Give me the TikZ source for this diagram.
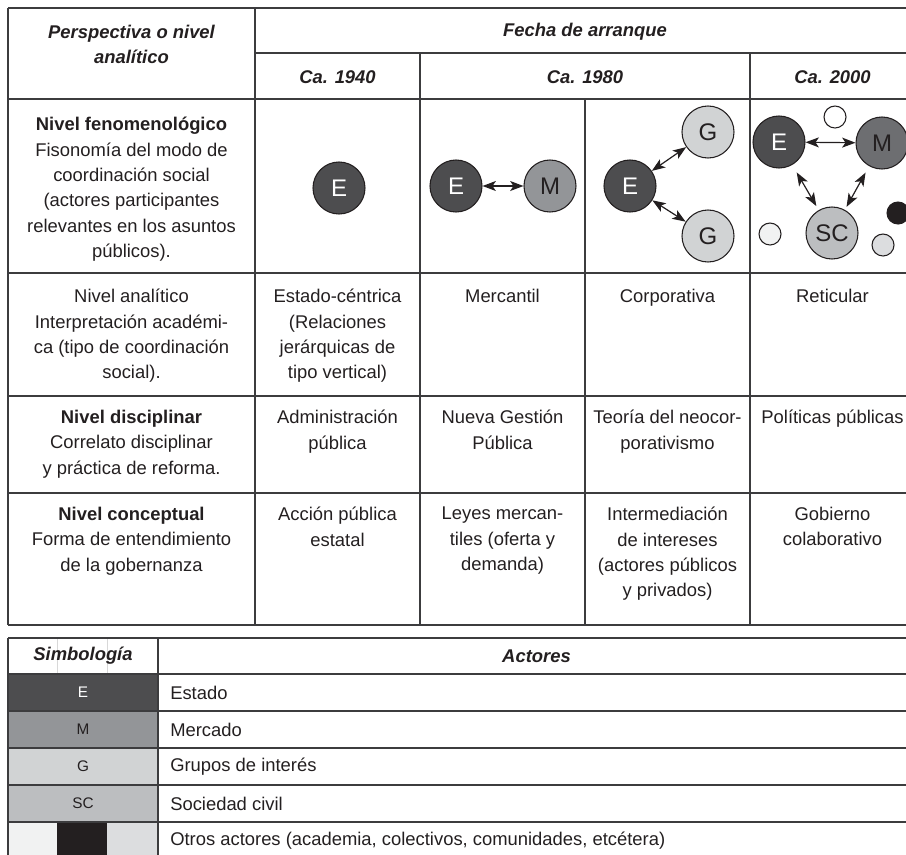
\documentclass[tikz,border=0pt]{standalone}
\usepackage{fontspec}
\setmainfont{Liberation Sans}
\usetikzlibrary{arrows.meta, positioning}
\definecolor{gridcolor}{RGB}{60, 60, 62}
\definecolor{inkcolor}{RGB}{35, 31, 32}
\definecolor{estadocolor}{RGB}{77, 77, 79}
\definecolor{mercadocolor}{RGB}{147, 149, 152}
\definecolor{mercadodark}{RGB}{109, 110, 113}
\definecolor{grupocolor}{RGB}{209, 211, 212}
\definecolor{sociedadcolor}{RGB}{188, 190, 192}
\definecolor{otrolight}{RGB}{241, 242, 242}
\definecolor{otrogray}{RGB}{220, 221, 223}
\definecolor{otroblack}{RGB}{35, 31, 32}

\begin{document}
\begin{tikzpicture}[x=0.75pt, y=-0.75pt,
    grid/.style={line width=1.1pt, gridcolor},
    cell/.style={font=\fontsize{13.8}{19}\selectfont, text=inkcolor, align=center, anchor=north, inner sep=0pt},
    head/.style={cell, font=\fontsize{13.8}{19}\selectfont\bfseries\itshape},
    entry/.style={font=\fontsize{13.8}{19}\selectfont, text=inkcolor, anchor=west, inner sep=0pt},
    symb/.style={font=\fontsize{11.5}{13}\selectfont, text=inkcolor, inner sep=0pt},
    actor/.style={circle, draw=inkcolor, line width=0.8pt, minimum size=39pt, inner sep=0pt,
                  font=\fontsize{18}{20}\selectfont, text=inkcolor},
    other/.style={circle, draw=inkcolor, line width=0.8pt, minimum size=16.5pt, inner sep=0pt},
    link/.style={{Stealth[length=10pt, width=7.5pt, inset=2.5pt]}-{Stealth[length=10pt, width=7.5pt, inset=2.5pt]},
                 line width=0.9pt, inkcolor}
]
\clip (0,0) rectangle (906,854);

% Table grid
\draw[grid] (8,8) -- (915,8);
\draw[grid] (255,53) -- (915,53);
\foreach \y in {99, 273, 396, 493, 625}
    \draw[grid] (8,\y) -- (915,\y);
\draw[grid] (8,8) -- (8,625);
\draw[grid] (255,8) -- (255,625);
\draw[grid] (420,53) -- (420,625);
\draw[grid] (585,99) -- (585,625);
\draw[grid] (750,53) -- (750,625);
\draw[grid] (915,8) -- (915,625);

% Header
\node[head] (hpersp) at (131.5,25) {Perspectiva o nivel\\analítico};
\node[head] (hfecha) at (585,23) {Fecha de arranque};
\node[head] (h40) at (337.5,70) {Ca. 1940};
\node[head] (h80) at (585,70) {Ca. 1980};
\node[head] (h00) at (832.5,70) {Ca. 2000};

% Nivel fenomenologico
\node[cell] (fen) at (131.5,117) {\textbf{Nivel fenomenológico}\\Fisonomía del modo de\\coordinación social\\(actores participantes\\relevantes en los asuntos\\públicos).};

\node[actor, fill=estadocolor, text=white] (e40) at (339,188) {E};

\node[actor, fill=estadocolor, text=white] (e80) at (456,186) {E};
\node[actor, fill=mercadocolor] (m80) at (550,186) {M};
\draw[link] (e80) -- (m80);

\node[actor, fill=estadocolor, text=white] (ecorp) at (630,186) {E};
\node[actor, fill=grupocolor] (gtop) at (708,132) {G};
\node[actor, fill=grupocolor] (gbot) at (708,236) {G};
\draw[link] (ecorp) -- (gtop);
\draw[link] (ecorp) -- (gbot);

\node[actor, fill=estadocolor, text=white] (e00) at (779,142) {E};
\node[actor, fill=mercadodark] (m00) at (882,143) {M};
\node[actor, fill=sociedadcolor] (sc00) at (832,233) {SC};
\node[other, fill=white] (o1) at (835,117) {};
\node[other, fill=otrolight] (o2) at (770,234) {};
\node[other, fill=otroblack] (o3) at (898,213) {};
\node[other, fill=otrogray] (o4) at (883,245) {};
\draw[link] (e00) -- (m00);
\draw[link, shorten <=6.5pt, shorten >=3.5pt] (e00) -- (sc00);
\draw[link, shorten <=5.5pt, shorten >=2.5pt] (m00) -- (sc00);

% Nivel analitico
\node[cell] (ana) at (131.5,289) {Nivel analítico\\Interpretación académi-\\ca (tipo de coordinación\\social).};
\node[cell] (ana40) at (337.5,289) {Estado-céntrica\\(Relaciones\\jerárquicas de\\tipo vertical)};
\node[cell] (ana80a) at (502.5,289) {Mercantil};
\node[cell] (ana80b) at (667.5,289) {Corporativa};
\node[cell] (ana00) at (832.5,289) {Reticular};

% Nivel disciplinar
\node[cell] (dis) at (131.5,410) {\textbf{Nivel disciplinar}\\Correlato disciplinar\\y práctica de reforma.};
\node[cell] (dis40) at (337.5,410) {Administración\\pública};
\node[cell] (dis80a) at (502.5,410) {Nueva Gestión\\Pública};
\node[cell] (dis80b) at (667.5,410) {Teoría del neocor-\\porativismo};
\node[cell] (dis00) at (832.5,410) {Políticas públicas};

% Nivel conceptual
\node[cell] (con) at (131.5,507) {\textbf{Nivel conceptual}\\Forma de entendimiento\\de la gobernanza};
\node[cell] (con40) at (337.5,507) {Acción pública\\estatal};
\node[cell] (con80a) at (502.5,507) {Leyes mercan-\\tiles (oferta y\\demanda)};
\node[cell] (con80b) at (667.5,507) {Intermediación\\de intereses\\(actores públicos\\y privados)};
\node[cell] (con00) at (832.5,507) {Gobierno\\colaborativo};

% Simbologia
\fill[estadocolor] (8,674) rectangle (158,711);
\fill[mercadocolor] (8,711) rectangle (158,748);
\fill[grupocolor] (8,748) rectangle (158,785);
\fill[sociedadcolor] (8,785) rectangle (158,822);
\fill[otrolight] (8,822) rectangle (57,860);
\fill[otroblack] (57,822) rectangle (107,860);
\fill[otrogray] (107,822) rectangle (158,860);
\draw[gridcolor!20, line width=0.5pt] (57,638) -- (57,674) (107,638) -- (107,674);
\draw[grid, line width=1.3pt] (8,638) -- (915,638);
\foreach \y in {674, 711, 748, 785, 822}
    \draw[grid] (8,\y) -- (915,\y);
\draw[grid] (8,638) -- (8,860);
\draw[grid] (158,638) -- (158,860);
\draw[grid] (915,638) -- (915,860);

\node[head, anchor=center] (hsimb) at (83,656) {Simbología};
\node[head, anchor=center] (hact) at (536.5,656) {Actores};
\node[symb, text=white] (se) at (83,692.5) {E};
\node[symb] (sm) at (83,729.5) {M};
\node[symb] (sg) at (83,766.5) {G};
\node[symb] (ssc) at (83,803.5) {SC};
\node[entry] (le) at (170,692.5) {Estado};
\node[entry] (lm) at (170,729.5) {Mercado};
\node[entry] (lg) at (170,766.5) {Grupos de interés};
\node[entry] (lsc) at (170,803.5) {Sociedad civil};
\node[entry] (lo) at (170,840.5) {Otros actores (academia, colectivos, comunidades, etcétera)};

\end{tikzpicture}
\end{document}
